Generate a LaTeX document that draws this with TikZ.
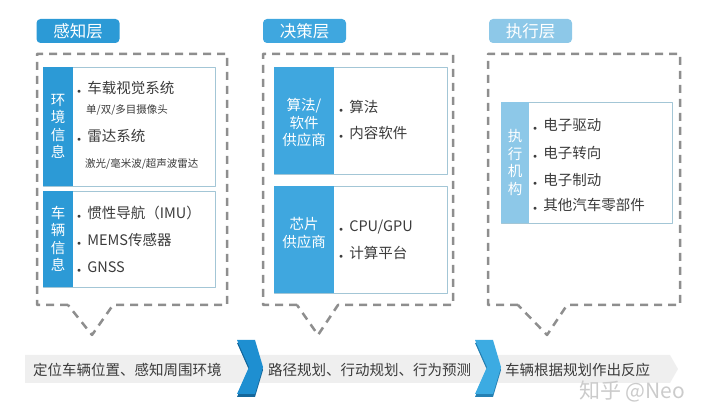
\documentclass[tikz,border=0pt]{standalone}
\usepackage{fontspec}
\setmainfont{Noto Sans CJK SC}
\usetikzlibrary{positioning}
\definecolor{tabblue}{HTML}{2C9AD6}
\definecolor{midblue}{HTML}{3FA7DF}
\definecolor{paleblue}{HTML}{8DC8E8}
\definecolor{framegray}{HTML}{8E8E8E}
\definecolor{boxline}{HTML}{A3C6D6}
\definecolor{itemgray}{HTML}{3C3C3C}
\definecolor{bandgray}{HTML}{EFEFEF}
\definecolor{markgray}{HTML}{CBCBCB}
\definecolor{chevA}{HTML}{1E8FD1}
\definecolor{chevAdark}{HTML}{14679B}
\definecolor{chevB}{HTML}{3CABE2}
\definecolor{chevBdark}{HTML}{2580B3}
\newcommand{\itembul}{{\fontsize{7}{7}\selectfont$\bullet$}\hspace{6pt}}
\begin{document}
\begin{tikzpicture}[x=1pt, y=-1pt, line join=round,
    tab/.style={rounded corners=4pt, minimum width=83pt, minimum height=24pt, inner sep=0pt, text=white, font=\fontsize{16.5}{16.5}\selectfont},
    frame/.style={draw=framegray, line width=2.5pt, dash pattern=on 8pt off 6pt},
    box/.style={draw=boxline, line width=0.9pt, fill=white},
    item/.style={anchor=west, inner sep=0pt, text=itemgray, font=\fontsize{14.5}{14.5}\selectfont},
    sub/.style={anchor=west, inner sep=0pt, text=itemgray, font=\fontsize{10.5}{10.5}\selectfont},
    side/.style={align=center, inner sep=0pt, text=white, font=\fontsize{14.5}{17.5}\selectfont},
    flow/.style={anchor=west, inner sep=0pt, text=itemgray, font=\fontsize{14.5}{14.5}\selectfont}]
    \useasboundingbox (0,0) rectangle (710,419);
    % dashed frames with V notch
    \foreach \l/\r/\a/\t/\b in {37/227/68/92/113, 263/453/297/318/338, 488/680/518/547/567}{
        \draw[frame] (\a,305) -- (\l,305) -- (\l,54) -- (\r,54) -- (\r,305) -- (\b,305) -- (\t,335) -- cycle;}
    % title tabs
    \node[tab, fill=tabblue] (sense) at (78,31) {感知层};
    \node[tab, fill=midblue] (decide) at (304.5,31) {决策层};
    \node[tab, fill=paleblue] (act) at (530.5,31) {执行层};
    % perception layer
    \draw[box] (43,67) rectangle (215,186);
    \fill[tabblue] (43,67) rectangle (73,186);
    \node[side] (env) at (58,126.5) {环\\境\\信\\息};
    \node[item] (cam) at (77,88) {\itembul 车载视觉系统};
    \node[sub] (camsub) at (86,110) {单/双/多目摄像头};
    \node[item] (radar) at (77,136) {\itembul 雷达系统};
    \node[sub] (radarsub) at (85,164) {激光/毫米波/超声波雷达};
    \draw[box] (43,191) rectangle (215,287);
    \fill[tabblue] (43,191) rectangle (73,287);
    \node[side] (veh) at (58,239) {车\\辆\\信\\息};
    \node[item] (imu) at (77,213) {\itembul 惯性导航（IMU）};
    \node[item] (mems) at (77,240) {\itembul MEMS传感器};
    \node[item] (gnss) at (77,267) {\itembul GNSS};
    % decision layer
    \draw[box] (274,67) rectangle (447,174);
    \fill[midblue] (274,67) rectangle (334,174);
    \node[side] (soft) at (304,123) {算法/\\软件\\供应商};
    \node[item] (algo) at (339,107) {\itembul 算法};
    \node[item] (content) at (339,133) {\itembul 内容软件};
    \draw[box] (274,186) rectangle (447,293);
    \fill[midblue] (274,186) rectangle (334,293);
    \node[side] (chip) at (304,233) {芯片\\供应商};
    \node[item] (cpu) at (339,227) {\itembul CPU/GPU};
    \node[item] (platform) at (339,253) {\itembul 计算平台};
    % execution layer
    \draw[box] (501,102) rectangle (672,223);
    \fill[paleblue] (501,102) rectangle (529,223);
    \node[side] (unit) at (515,162.5) {执\\行\\机\\构};
    \node[item] (drive) at (533,125) {\itembul 电子驱动};
    \node[item] (steer) at (533,153) {\itembul 电子转向};
    \node[item] (brake) at (533,180) {\itembul 电子制动};
    \node[item] (parts) at (533,205) {\itembul 其他汽车零部件};
    % bottom flow band
    \fill[bandgray] (25,355) -- (670,355) -- (678,369) -- (670,383) -- (25,383) -- cycle;
    \foreach \x/\c/\d in {237/chevA/chevAdark, 475/chevB/chevBdark}{
        \fill[\d] (\x,343) -- (\x+18,343) -- (\x+26,370) -- (\x+18,397) -- (\x,397) -- (\x+12,370) -- cycle;
        \fill[\c] (\x,340) -- (\x+18,340) -- (\x+26,367) -- (\x+18,394) -- (\x,394) -- (\x+12,367) -- cycle;}
    \node[flow] (locate) at (33,370) {定位车辆位置、感知周围环境};
    \node[flow] (plan) at (268,370) {路径规划、行动规划、行为预测};
    \node[flow] (react) at (505,370) {车辆根据规划作出反应};
    \node[anchor=west, inner sep=0pt, text=markgray, font=\fontsize{21}{21}\selectfont] (mark) at (579,391) {知乎 @Neo};
\end{tikzpicture}
\end{document}
